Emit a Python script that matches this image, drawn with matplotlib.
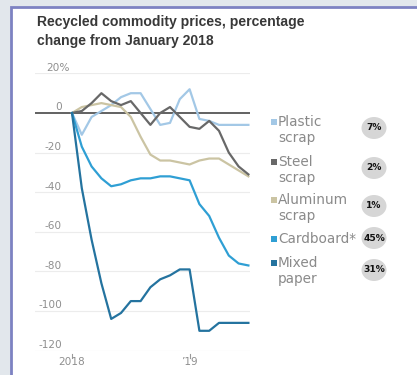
import matplotlib
matplotlib.use("Agg")
import matplotlib.pyplot as plt
import matplotlib.patches as mpatches
import matplotlib.transforms as mtransforms
import numpy as np

# monthly values, Jan 2018 .. Jul 2019 (percent change from Jan 2018)
plastic = [0, -11, -2, 1, 4, 8, 10, 10, 2, -6, -5, 7, 12, -3, -4, -6, -6, -6, -6]
steel = [0, 1, 5, 10, 6, 4, 6, 0, -6, 0, 3, -2, -7, -8, -4, -9, -20, -27, -31]
aluminum = [0, 3, 4, 5, 4, 3, -2, -12, -21, -24, -24, -25, -26, -24, -23, -23, -26, -29, -32]
cardboard = [0, -17, -27, -33, -37, -36, -34, -33, -33, -32, -32, -33, -34, -46, -52, -63, -72, -76, -77]
mixed_paper = [0, -38, -64, -86, -104, -101, -95, -95, -88, -84, -82, -79, -79, -110, -110, -106, -106, -106, -106]

series_names = ["Plastic\nscrap", "Steel\nscrap", "Aluminum\nscrap", "Cardboard*", "Mixed\npaper"]
series_colors = ["#a3c8e6", "#686868", "#cbc4a3", "#2f9fd4", "#24739f"]
shares = ["7%", "2%", "1%", "45%", "31%"]
yticks = [20, 0, -20, -40, -60, -80, -100, -120]
xtick_pos = [0, 12]
xtick_labels = ["2018", "\u201919"]

W, H = 417, 375
fig = plt.figure(figsize=(W / 100, H / 100), dpi=100)
fig.patch.set_facecolor("#e2e7ec")

def fx(x):
    return x / W

def fy(y):
    return 1 - y / H

# white card with bluish border
card = mpatches.Rectangle((fx(11), fy(390)), fx(430), fy(7) - fy(390), transform=fig.transFigure,
                          facecolor="white", edgecolor="#7d82c2", linewidth=2, zorder=-5)
fig.patches.append(card)

fig.text(fx(37), fy(15), "Recycled commodity prices, percentage\nchange from January 2018",
         fontsize=10.1, fontweight="bold", color="#383838", va="top", ha="left",
         linespacing=1.5, family="Liberation Sans")

top_px, bottom_px = 73.4, 350.6
ax = fig.add_axes([fx(35), fy(bottom_px), fx(250) - fx(35), fy(top_px) - fy(bottom_px)])
ax.set_zorder(5)
ax.set_xlim((35 - 72) / 9.8, (250 - 72) / 9.8)
ax.set_ylim(-120, 20)
ax.axis("off")

for v in yticks:
    if v != 0:
        ax.axhline(v, color="#ececec", lw=0.8, zorder=1)
ax.axhline(0, color="#555555", lw=1.3, zorder=2)

lab_tr = mtransforms.offset_copy(
    mtransforms.blended_transform_factory(ax.transAxes, ax.transData), fig=fig, x=0, y=2.5, units="dots")
xlab = (62 - 35) / 215
for v in yticks:
    if v == 20:
        ax.text((70 - 35) / 215, v, "20%", transform=lab_tr, ha="right", va="baseline",
                fontsize=7.6, color="#8f8f8f")
    else:
        ax.text(xlab, v, str(v), transform=lab_tr, ha="right", va="baseline",
                fontsize=7.6, color="#8f8f8f")

x = np.arange(len(plastic))
order = [plastic, aluminum, steel, cardboard, mixed_paper]
order_colors = [series_colors[0], series_colors[2], series_colors[1], series_colors[3], series_colors[4]]
for vals, c in zip(order, order_colors):
    ax.plot(x, vals, color=c, lw=1.6, zorder=3, solid_joinstyle="round")

for pos, lab in zip(xtick_pos, xtick_labels):
    ax.plot([pos, pos], [-121.5, -123.5], color="#999999", lw=0.8, clip_on=False)
    ax.text(pos, -126, lab, ha="center", va="center", fontsize=7.6, color="#8f8f8f")

# legend
square_y = [122, 162, 200, 239, 263]
circle_y = [128, 168, 206, 238, 270]
for name, c, sy, share, cy in zip(series_names, series_colors, square_y, shares, circle_y):
    fig.patches.append(mpatches.Rectangle((fx(271), fy(sy + 3)), fx(6), fy(sy - 3) - fy(sy + 3),
                                          transform=fig.transFigure, facecolor=c, edgecolor="none"))
    fig.text(fx(278), fy(sy - 7), name, fontsize=9.8, color="#8a8a8a", ha="left", va="top",
             linespacing=1.2)
    fig.patches.append(mpatches.Ellipse((fx(374), fy(cy)), fx(25), fy(0) - fy(22),
                                        transform=fig.transFigure, facecolor="#d6d6d6", edgecolor="none"))
    fig.text(fx(374), fy(cy), share, fontsize=6.6, fontweight="bold", color="#111111",
             ha="center", va="center")

fig.savefig("out.png", dpi=100)
